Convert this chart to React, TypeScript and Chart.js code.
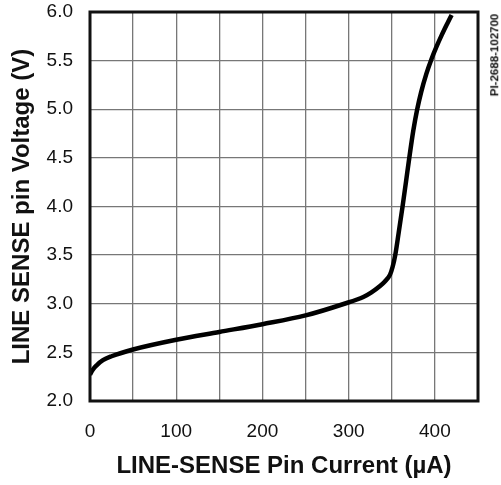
import React, { useEffect, useRef } from "react";
import { Chart, registerables } from "chart.js";

Chart.register(...registerables);

const current: number[] = [0, 3, 8, 15, 25, 50, 100, 150, 200, 250, 295, 317, 326, 336, 342, 348, 351, 354, 358, 362.5, 366.5, 370.3, 375, 379.5, 384, 390, 396, 402, 408, 414, 419.4];
const voltage: number[] = [2.27, 2.32, 2.37, 2.42, 2.46, 2.53, 2.63, 2.71, 2.79, 2.88, 3.0, 3.07, 3.115, 3.18, 3.23, 3.3, 3.38, 3.5, 3.73, 4.0, 4.255, 4.5, 4.783, 5.0, 5.174, 5.361, 5.514, 5.646, 5.765, 5.875, 5.97];

const xTitle = "LINE-SENSE Pin Current (\u00B5A)";
const yTitle = "LINE SENSE pin Voltage (V)";
const figId = "PI-2688-102700";
const xMin = 0, xMax = 450, xStep = 50, xLabelEvery = 100;
const yMin = 2, yMax = 6, yStep = 0.5;

const FONT = "'Liberation Sans', Arial, Helvetica, sans-serif";

const framePlugin = {
  id: "frame",
  afterDatasetsDraw(chart: any) {
    const { ctx, chartArea } = chart;
    ctx.save();
    ctx.strokeStyle = "#111";
    ctx.lineWidth = 3;
    ctx.strokeRect(chartArea.left, chartArea.top, chartArea.right - chartArea.left, chartArea.bottom - chartArea.top);
    ctx.restore();
  },
};

export default function App() {
  const ref = useRef<HTMLCanvasElement | null>(null);
  useEffect(() => {
    if (!ref.current) return;
    const chart = new Chart(ref.current, {
      type: "line",
      data: {
        datasets: [
          {
            data: current.map((x, i) => ({ x, y: voltage[i] })),
            borderColor: "#000",
            borderWidth: 4.5,
            pointRadius: 0,
            cubicInterpolationMode: "monotone",
            fill: false,
          },
        ],
      },
      options: {
        animation: false,
        responsive: false,
        layout: { padding: { left: 8, right: 23, top: 12, bottom: 0 } },
        plugins: { legend: { display: false }, tooltip: { enabled: false } },
        scales: {
          x: {
            type: "linear",
            min: xMin,
            max: xMax,
            grid: { color: "#777", lineWidth: 1.3, drawTicks: false },
            border: { display: false },
            afterFit: (s: any) => { s.height = 84; s.paddingTop = 0; s.paddingBottom = 0; },
            ticks: {
              stepSize: xStep,
              padding: 19,
              color: "#111",
              maxRotation: 0,
              autoSkip: false,
              font: { family: FONT, size: 19 },
              callback: (v: any) => (Number(v) % xLabelEvery === 0 ? String(v) : ""),
            },
            title: {
              display: true,
              text: xTitle,
              color: "#111",
              font: { family: FONT, size: 24, weight: "bold" },
              padding: { top: 10, bottom: 4 },
            },
          },
          y: {
            type: "linear",
            min: yMin,
            max: yMax,
            grid: { color: "#777", lineWidth: 1.3, drawTicks: false },
            border: { display: false },
            afterFit: (s: any) => { s.width = 82; s.paddingTop = 0; s.paddingBottom = 0; },
            ticks: {
              stepSize: yStep,
              padding: 17,
              color: "#111",
              font: { family: FONT, size: 19 },
              callback: (v: any) => Number(v).toFixed(1),
            },
            title: {
              display: true,
              text: yTitle,
              color: "#111",
              font: { family: FONT, size: 24, weight: "bold" },
              padding: { top: 0, bottom: 11 },
            },
          },
        },
      },
      plugins: [framePlugin],
    } as any);
    return () => chart.destroy();
  }, []);
  return (
    <div style={{ position: "absolute", left: 0, top: 0, width: 501, height: 485, background: "#fff" }}>
      <canvas ref={ref} width={501} height={485} style={{ display: "block" }} />
      <div
        style={{
          position: "absolute",
          left: 495,
          top: 55,
          transform: "translate(-50%, -50%) rotate(-90deg)",
          whiteSpace: "nowrap",
          fontFamily: FONT,
          fontWeight: "bold",
          fontSize: 11.5,
          color: "#111",
          lineHeight: 1,
        }}
      >
        {figId}
      </div>
    </div>
  );
}
